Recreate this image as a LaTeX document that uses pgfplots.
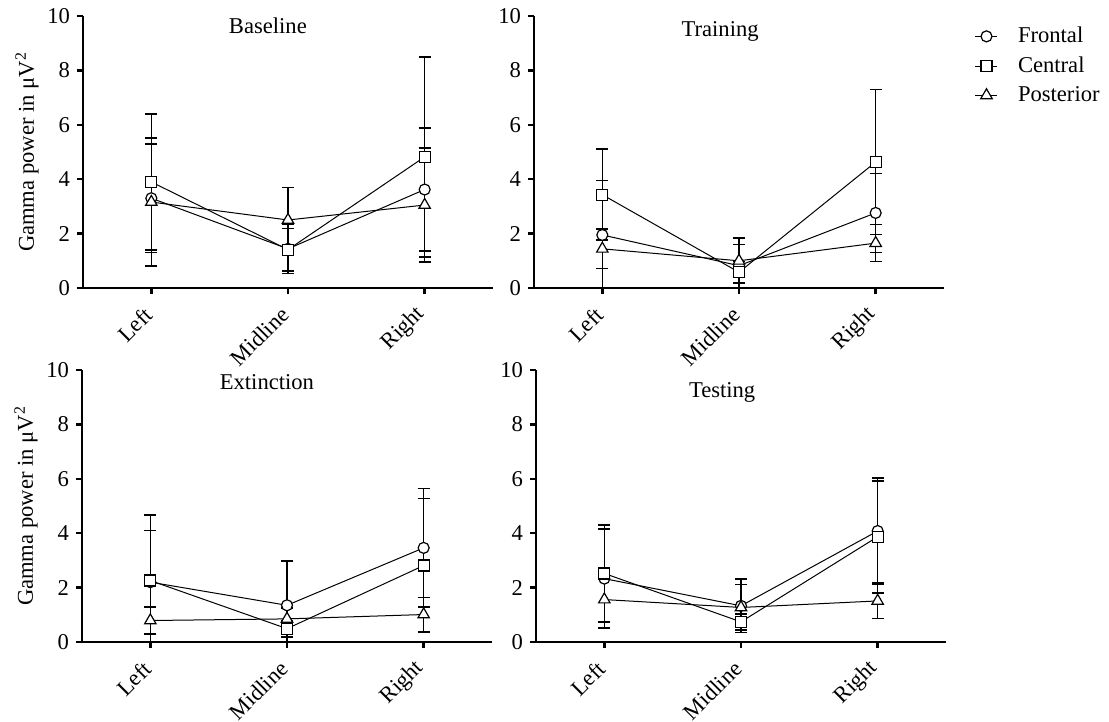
\documentclass[border=0pt]{standalone}
\usepackage{fontspec}
\setmainfont{Liberation Serif}
\usepackage{pgfplots}
\pgfplotsset{compat=1.18}

% shared look of the four panels
\pgfplotsset{
  panel/.style={
    scale only axis, width=205pt, height=136pt,
    xmin=-0.5, xmax=2.5, ymin=0, ymax=10,
    xtick={0,1,2}, xticklabels={Left,Midline,Right},
    ytick={0,2,...,10},
    axis x line*=bottom, axis y line*=left,
    axis line style={line width=1.2pt, -},
    tick align=outside, major tick length=3pt,
    tick style={line width=1.2pt, black},
    xticklabel style={yshift=-7pt, rotate=45, anchor=east, inner sep=2pt},
    /pgf/number format/assume math mode=true,
    font=\fontsize{11.3pt}{13.5pt}\selectfont,
    ylabel style={at={(ticklabel cs:0.5)}},
    ylabel shift=-2.5pt,
    legend image code/.code={%
      \draw[mark repeat=2,mark phase=2] plot coordinates {(0pt,0pt) (5.5pt,0pt) (11pt,0pt)};},
  },
  eb/.style={error bars/.cd, y dir=both, y explicit,
    error bar style={line width=0.8pt, black},
    error mark options={rotate=90, mark size=3pt, line width=0.8pt, black}},
  fr/.style={black, line width=0.5pt, mark=*, mark size=2.75pt,
    mark options={fill=white, line width=0.6pt}, eb},
  ce/.style={black, line width=0.5pt, mark=square*, mark size=2.75pt,
    mark options={fill=white, line width=0.6pt}, eb},
  po/.style={black, line width=0.5pt, mark=triangle*, mark size=3.3pt,
    mark options={fill=white, line width=0.6pt}, eb},
}

\begin{document}
\begin{tikzpicture}
\useasboundingbox (0,0) rectangle (554.5pt,-361pt);

% Baseline
\begin{axis}[panel, at={(41.5pt,-144pt)}, anchor=south west,
  ylabel={Gamma power in μV\textsuperscript{2}}]
\addplot[fr] coordinates {(0,3.30) +- (0,2.00) (1,1.44) +- (0,0.90) (2,3.62) +- (0,2.27)};
\addplot[ce] coordinates {(0,3.90) +- (0,2.50) (1,1.41) +- (0,0.78) (2,4.82) +- (0,3.68)};
\addplot[po] coordinates {(0,3.16) +- (0,2.35) (1,2.50) +- (0,1.20) (2,3.05) +- (0,2.10)};
\node[anchor=base] at (rel axis cs:0.451,0.934) {Baseline};
\end{axis}

% Training
\begin{axis}[panel, at={(267pt,-144pt)}, anchor=south west,
  legend style={at={(1.06,0.983)}, anchor=north west, draw=none, fill=none,
    row sep=3.5pt, column sep=9pt, nodes={inner sep=1pt}},
  legend cell align=left]
\addplot[fr] coordinates {(0,1.95) +- (0,2.00) (1,0.82) +- (0,1.02) (2,2.76) +- (0,1.45)};
\addplot[ce] coordinates {(0,3.43) +- (0,1.67) (1,0.58) +- (0,0.40) (2,4.63) +- (0,2.67)};
\addplot[po] coordinates {(0,1.44) +- (0,0.72) (1,1.00) +- (0,0.60) (2,1.65) +- (0,0.68)};
\legend{Frontal, Central, Posterior}
\node[anchor=base] at (rel axis cs:0.454,0.923) {Training};
\end{axis}

% Extinction
\begin{axis}[panel, at={(41pt,-321pt)}, anchor=south west,
  ylabel={Gamma power in μV\textsuperscript{2}}]
\addplot[fr] coordinates {(0,2.20) +- (0,1.90) (1,1.35) +- (0,1.62) (2,3.46) +- (0,2.18)};
\addplot[ce] coordinates {(0,2.26) +- (0,2.40) (1,0.49) +- (0,0.30) (2,2.81) +- (0,2.46)};
\addplot[po] coordinates {(0,0.79) +- (0,0.50) (1,0.85) +- (0,0.40) (2,1.01) +- (0,0.63)};
\node[anchor=base] at (rel axis cs:0.451,0.930) {Extinction};
\end{axis}

% Testing
\begin{axis}[panel, at={(268pt,-321pt)}, anchor=south west]
\addplot[fr] coordinates {(0,2.33) +- (0,1.82) (1,1.33) +- (0,0.98) (2,4.08) +- (0,1.94)};
\addplot[ce] coordinates {(0,2.52) +- (0,1.78) (1,0.74) +- (0,0.30) (2,3.87) +- (0,2.06)};
\addplot[po] coordinates {(0,1.56) +- (0,0.80) (1,1.27) +- (0,0.84) (2,1.51) +- (0,0.65)};
\node[anchor=base] at (rel axis cs:0.454,0.900) {Testing};
\end{axis}
\end{tikzpicture}
\end{document}
